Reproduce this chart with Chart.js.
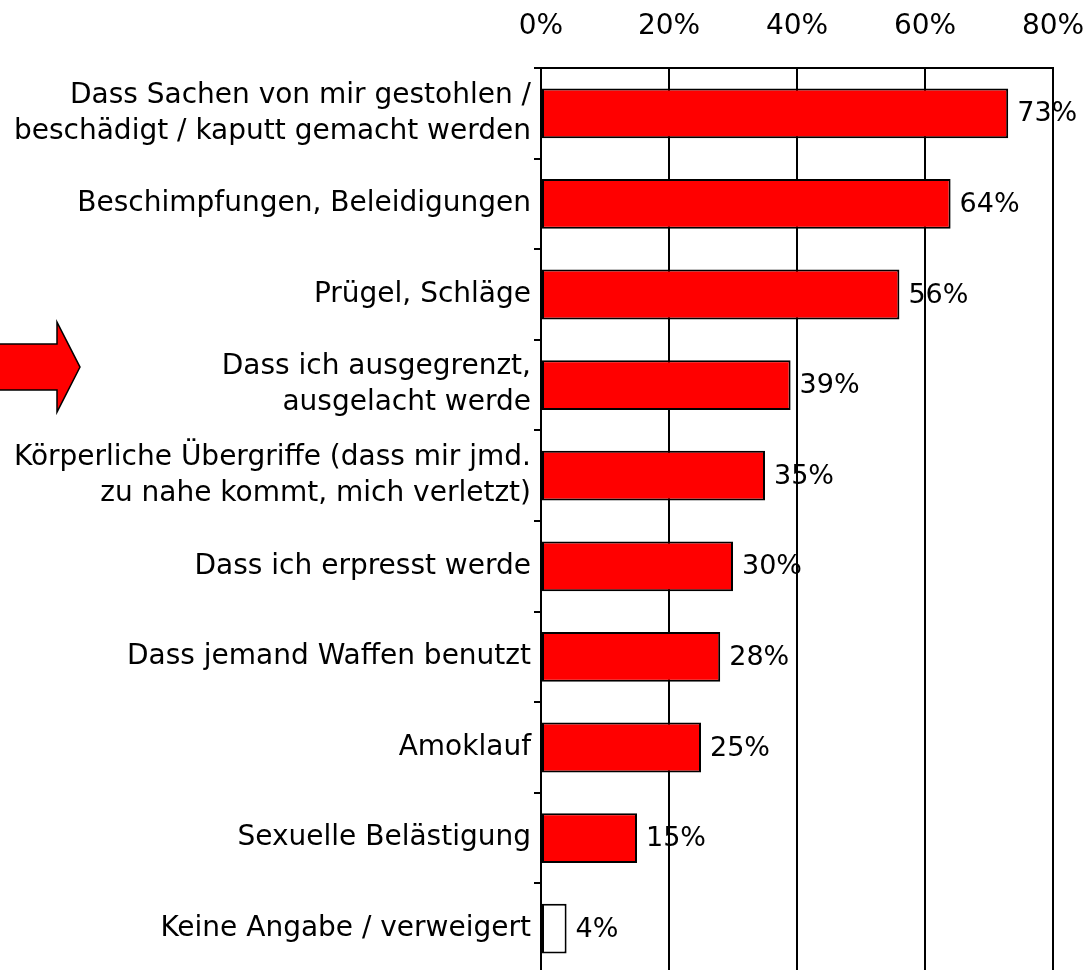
<!DOCTYPE html>
<html>
<head>
<meta charset="utf-8">
<script src="https://cdn.jsdelivr.net/npm/chart.js@4/dist/chart.umd.min.js"></script>
<style>
  html, body { margin: 0; padding: 0; background: #fff; overflow: hidden; }
  canvas { display: block; }
</style>
</head>
<body>
<canvas id="chart" width="1083" height="974"></canvas>
<script>
// Kategorien (mehrzeilige Beschriftungen als Arrays)
const categories = [
    ['Dass Sachen von mir gestohlen /', 'beschädigt / kaputt gemacht werden'],
    'Beschimpfungen, Beleidigungen',
    'Prügel, Schläge',
    ['Dass ich ausgegrenzt,', 'ausgelacht werde'],
    ['Körperliche Übergriffe (dass mir jmd.', 'zu nahe kommt, mich verletzt)'],
    'Dass ich erpresst werde',
    'Dass jemand Waffen benutzt',
    'Amoklauf',
    'Sexuelle Belästigung',
    'Keine Angabe / verweigert'
];
const values = [73, 64, 56, 39, 35, 30, 28, 25, 15, 4];
const xTicks = [0, 20, 40, 60, 80];
const highlightIndex = 3; // Pfeil zeigt auf diese Kategorie

const FONT = "'DejaVu Sans', sans-serif";

// Werte rechts neben den Balken (vor dem Gitter gezeichnet, Linien liegen darüber)
const valueLabels = {
    id: 'valueLabels',
    beforeDraw(chart) {
        const ctx = chart.ctx;
        const meta = chart.getDatasetMeta(0);
        ctx.save();
        ctx.font = `27px ${FONT}`;
        ctx.fillStyle = '#000';
        ctx.textAlign = 'left';
        ctx.textBaseline = 'middle';
        meta.data.forEach((bar, i) => {
            ctx.fillText(values[i] + '%', bar.x + 9, bar.y + 1);
        });
        ctx.restore();
    }
};

// roter Pfeil links, zeigt auf die markierte Kategorie
const arrowMark = {
    id: 'arrowMark',
    afterDraw(chart) {
        const ctx = chart.ctx;
        const cy = chart.scales.y.getPixelForValue(highlightIndex) - 18;
        ctx.save();
        ctx.beginPath();
        ctx.moveTo(-5, cy - 23);
        ctx.lineTo(57, cy - 23);
        ctx.lineTo(57, cy - 45);
        ctx.lineTo(80, cy);
        ctx.lineTo(57, cy + 45);
        ctx.lineTo(57, cy + 23);
        ctx.lineTo(-5, cy + 23);
        ctx.closePath();
        ctx.fillStyle = '#ff0000';
        ctx.fill();
        ctx.lineWidth = 1.5;
        ctx.strokeStyle = '#000';
        ctx.stroke();
        ctx.restore();
    }
};

const ctx = document.getElementById('chart').getContext('2d');
new Chart(ctx, {
    type: 'bar',
    data: {
        labels: categories,
        datasets: [{
            data: values,
            backgroundColor: values.map((v, i) => i === values.length - 1 ? '#ffffff' : '#ff0000'),
            borderColor: '#000',
            borderWidth: 2,
            borderSkipped: false,
            barPercentage: 0.55,
            categoryPercentage: 1
        }]
    },
    options: {
        responsive: false,
        animation: false,
        indexAxis: 'y',
        layout: { padding: { top: 0, right: 30, bottom: 0, left: 0 } },
        plugins: {
            legend: { display: false },
            tooltip: { enabled: false }
        },
        scales: {
            x: {
                position: 'top',
                min: 0,
                max: 80,
                afterBuildTicks: s => { s.ticks = xTicks.map(v => ({ value: v })); },
                afterFit: s => { s.height = 68; s.paddingLeft = 0; s.paddingRight = 0; },
                ticks: {
                    color: '#000',
                    font: { family: FONT, size: 28 },
                    padding: 24,
                    maxRotation: 0,
                    callback: v => v + '%'
                },
                grid: { color: '#000', lineWidth: 2, drawTicks: false, tickLength: 0 },
                border: { color: '#000', width: 2 }
            },
            y: {
                afterFit: s => { s.width = 541; s.paddingTop = 0; s.paddingBottom = 0; },
                ticks: {
                    color: '#000',
                    font: { family: FONT, size: 28, lineHeight: 1.29 },
                    padding: 3
                },
                grid: {
                    offset: true,
                    drawOnChartArea: false,
                    drawTicks: true,
                    tickLength: 7,
                    color: '#000',
                    lineWidth: 2
                },
                border: { color: '#000', width: 2 }
            }
        }
    },
    plugins: [valueLabels, arrowMark]
});
</script>
</body>
</html>
